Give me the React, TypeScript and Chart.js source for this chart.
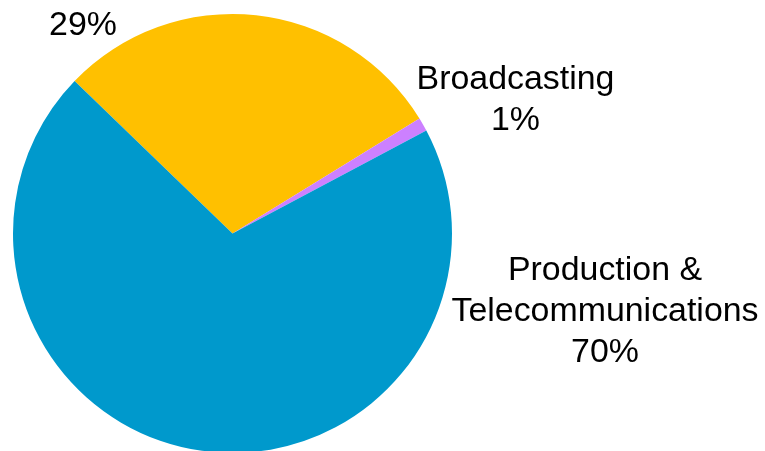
import React, { useEffect, useRef } from "react";
import { Chart, registerables } from "chart.js";

Chart.register(...registerables);

const categories = ["", "Broadcasting", "Production & Telecommunications"];
const values = [29, 1, 70];
const colors = ["#FFC000", "#CC80FF", "#0099CC"];
const labelLines = [["29%"], ["Broadcasting", "1%"], ["Production &", "Telecommunications", "70%"]];
const labelAnchors = [
  { x: 83, y: 35 },
  { x: 515.5, y: 89 },
  { x: 605, y: 279.5 },
];

export default function App() {
  const ref = useRef<HTMLCanvasElement | null>(null);
  useEffect(() => {
    if (!ref.current) return;
    const labelPlugin = {
      id: "outerLabels",
      afterDraw(chart: any) {
        const ctx = chart.ctx;
        ctx.save();
        ctx.fillStyle = "#000000";
        ctx.font = '33px "Liberation Sans", Arial, sans-serif';
        ctx.textAlign = "center";
        ctx.textBaseline = "alphabetic";
        labelLines.forEach((lines, i) => {
          const a = labelAnchors[i];
          lines.forEach((t, j) => {
            ctx.save();
            ctx.translate(a.x, a.y + j * 41);
            ctx.scale(1.027, 1);
            ctx.fillText(t, 0, 0);
            ctx.restore();
          });
        });
        ctx.restore();
      },
    };
    const chart = new Chart(ref.current, {
      type: "pie",
      data: {
        labels: categories,
        datasets: [
          {
            data: values,
            backgroundColor: colors,
            borderWidth: 0,
          },
        ],
      },
      options: {
        responsive: false,
        animation: false,
        rotation: -46,
        layout: { padding: { left: 13, top: 14, right: 313, bottom: 13 } },
        plugins: { legend: { display: false }, tooltip: { enabled: false } },
      },
      plugins: [labelPlugin],
    });
    return () => chart.destroy();
  }, []);
  return (
    <div style={{ position: "fixed", left: 0, top: 0, width: 765, height: 451, overflow: "hidden", background: "#fff" }}>
      <canvas ref={ref} width={765} height={466} style={{ display: "block" }} />
    </div>
  );
}
